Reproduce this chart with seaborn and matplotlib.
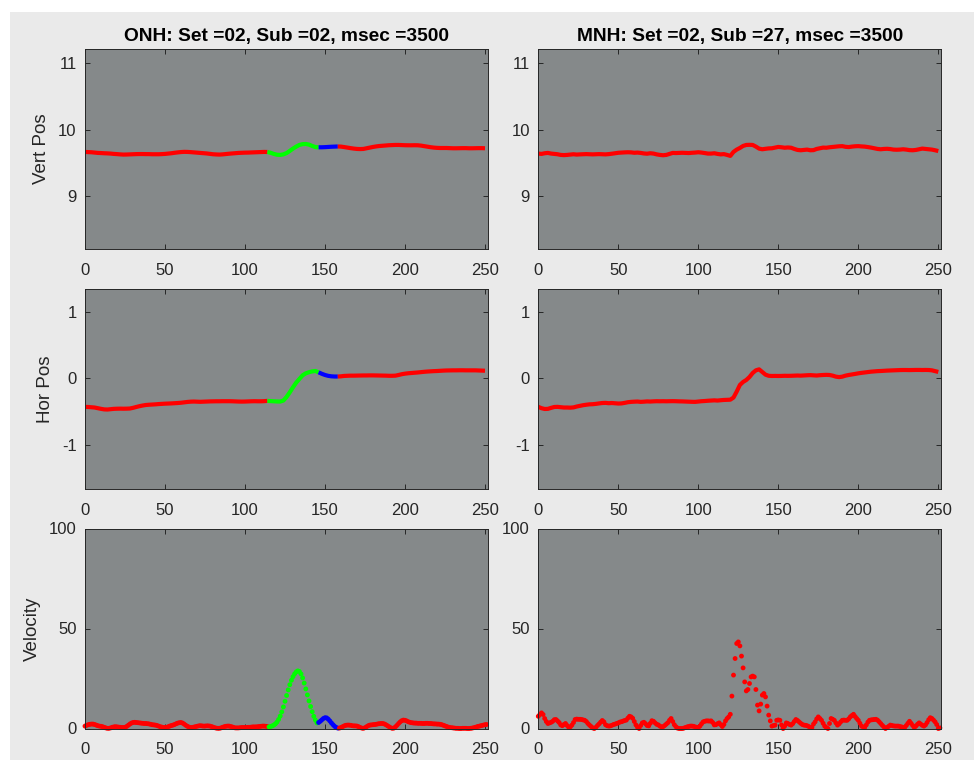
import numpy as np
import pandas as pd
import seaborn as sns
import matplotlib
matplotlib.use("Agg")
import matplotlib.pyplot as plt
from matplotlib.patches import Rectangle

# ---------------------------------------------------------------- data
# Position traces are sampled every 2 samples, velocity every sample.
POS_T = list(range(0, 252, 2))
VEL_T = list(range(0, 252))

ONH_VERT = [
    9.665, 9.662, 9.660, 9.655, 9.650, 9.648, 9.645, 9.643, 9.640, 9.635,
    9.632, 9.628, 9.625, 9.626, 9.628, 9.630, 9.632, 9.633, 9.633, 9.632,
    9.632, 9.630, 9.630, 9.630, 9.632, 9.635, 9.640, 9.645, 9.652, 9.658,
    9.663, 9.666, 9.665, 9.662, 9.658, 9.654, 9.650, 9.646, 9.642, 9.636,
    9.630, 9.627, 9.625, 9.628, 9.633, 9.638, 9.642, 9.646, 9.650, 9.652,
    9.654, 9.655, 9.657, 9.659, 9.661, 9.663, 9.665, 9.664, 9.652, 9.635,
    9.623, 9.620, 9.628, 9.648, 9.680, 9.715, 9.745, 9.770, 9.782, 9.785,
    9.775, 9.755, 9.738, 9.735, 9.735, 9.737, 9.740, 9.743, 9.745, 9.747,
    9.745, 9.738, 9.730, 9.722, 9.715, 9.710, 9.708, 9.710, 9.720, 9.730,
    9.740, 9.748, 9.754, 9.758, 9.762, 9.766, 9.768, 9.770, 9.770, 9.768,
    9.766, 9.765, 9.765, 9.766, 9.765, 9.760, 9.752, 9.744, 9.736, 9.730,
    9.726, 9.724, 9.724, 9.724, 9.722, 9.720, 9.720, 9.721, 9.722, 9.722,
    9.720, 9.720, 9.721, 9.722, 9.722, 9.720,
]
MNH_VERT = [
    9.640, 9.635, 9.645, 9.650, 9.640, 9.635, 9.630, 9.620, 9.617, 9.620,
    9.625, 9.630, 9.625, 9.628, 9.630, 9.632, 9.630, 9.628, 9.630, 9.632,
    9.630, 9.628, 9.632, 9.638, 9.645, 9.652, 9.655, 9.658, 9.660, 9.658,
    9.652, 9.655, 9.650, 9.642, 9.638, 9.645, 9.640, 9.628, 9.620, 9.615,
    9.620, 9.635, 9.650, 9.648, 9.650, 9.652, 9.650, 9.648, 9.652, 9.655,
    9.660, 9.655, 9.648, 9.640, 9.640, 9.645, 9.635, 9.628, 9.632, 9.620,
    9.605, 9.665, 9.700, 9.725, 9.755, 9.770, 9.772, 9.770, 9.745, 9.715,
    9.705, 9.712, 9.718, 9.720, 9.730, 9.740, 9.735, 9.728, 9.732, 9.728,
    9.710, 9.695, 9.690, 9.695, 9.700, 9.690, 9.692, 9.710, 9.720, 9.730,
    9.728, 9.735, 9.740, 9.745, 9.750, 9.752, 9.742, 9.738, 9.745, 9.750,
    9.752, 9.748, 9.745, 9.738, 9.730, 9.720, 9.710, 9.705, 9.710, 9.712,
    9.708, 9.700, 9.698, 9.700, 9.705, 9.700, 9.692, 9.690, 9.695, 9.705,
    9.715, 9.710, 9.705, 9.700, 9.690, 9.678,
]
ONH_HOR = [
    -0.430, -0.432, -0.436, -0.440, -0.450, -0.460, -0.468, -0.470, -0.465, -0.460,
    -0.458, -0.457, -0.458, -0.457, -0.455, -0.445, -0.432, -0.420, -0.410, -0.402,
    -0.398, -0.395, -0.392, -0.388, -0.385, -0.382, -0.380, -0.378, -0.375, -0.372,
    -0.368, -0.362, -0.356, -0.352, -0.350, -0.352, -0.354, -0.352, -0.350, -0.348,
    -0.347, -0.346, -0.346, -0.345, -0.345, -0.345, -0.346, -0.348, -0.350, -0.351,
    -0.350, -0.348, -0.346, -0.345, -0.346, -0.346, -0.344, -0.340, -0.343, -0.346,
    -0.349, -0.350, -0.335, -0.280, -0.210, -0.135, -0.065, -0.010, 0.045, 0.075,
    0.092, 0.104, 0.110, 0.090, 0.068, 0.050, 0.037, 0.030, 0.027, 0.027,
    0.030, 0.036, 0.038, 0.040, 0.040, 0.041, 0.042, 0.043, 0.043, 0.044,
    0.044, 0.043, 0.042, 0.041, 0.040, 0.038, 0.038, 0.040, 0.050, 0.062,
    0.070, 0.076, 0.080, 0.084, 0.088, 0.093, 0.098, 0.102, 0.105, 0.108,
    0.110, 0.113, 0.116, 0.118, 0.119, 0.120, 0.120, 0.121, 0.121, 0.120,
    0.120, 0.120, 0.120, 0.118, 0.116, 0.114,
]
MNH_HOR = [
    -0.430, -0.450, -0.462, -0.460, -0.445, -0.432, -0.430, -0.435, -0.440, -0.440,
    -0.442, -0.438, -0.425, -0.415, -0.405, -0.398, -0.392, -0.390, -0.385, -0.378,
    -0.372, -0.370, -0.375, -0.372, -0.376, -0.380, -0.378, -0.370, -0.360, -0.355,
    -0.352, -0.350, -0.355, -0.352, -0.348, -0.350, -0.347, -0.345, -0.346, -0.345,
    -0.346, -0.345, -0.344, -0.345, -0.347, -0.348, -0.350, -0.352, -0.354, -0.355,
    -0.350, -0.345, -0.342, -0.338, -0.335, -0.332, -0.335, -0.330, -0.326, -0.324,
    -0.322, -0.290, -0.200, -0.100, -0.055, -0.025, 0.020, 0.080, 0.120, 0.135,
    0.095, 0.055, 0.038, 0.035, 0.036, 0.035, 0.036, 0.038, 0.037, 0.038,
    0.040, 0.042, 0.040, 0.043, 0.046, 0.048, 0.045, 0.042, 0.047, 0.050,
    0.052, 0.050, 0.040, 0.025, 0.018, 0.025, 0.040, 0.050, 0.058, 0.066,
    0.075, 0.082, 0.088, 0.094, 0.100, 0.104, 0.108, 0.110, 0.113, 0.116,
    0.118, 0.120, 0.122, 0.124, 0.125, 0.125, 0.124, 0.125, 0.126, 0.126,
    0.125, 0.126, 0.125, 0.120, 0.108, 0.096,
]
ONH_VEL = [
    1.2, 1.6, 1.9, 2.1, 2.2, 2.2, 2.0, 1.7, 1.4, 1.2,
    1.1, 0.9, 0.6, 0.3, 0.1, 0.1, 0.3, 0.6, 0.8, 0.9,
    0.8, 0.7, 0.6, 0.5, 0.5, 0.6, 1.0, 1.6, 2.2, 2.7,
    3.0, 3.1, 3.0, 2.9, 2.8, 2.7, 2.6, 2.5, 2.5, 2.4,
    2.3, 2.1, 1.9, 1.8, 1.7, 1.5, 1.2, 0.9, 0.7, 0.5,
    0.5, 0.6, 0.9, 1.2, 1.5, 1.7, 2.0, 2.4, 2.7, 2.9,
    3.0, 2.7, 2.2, 1.6, 1.1, 0.7, 0.5, 0.5, 0.7, 0.9,
    1.1, 1.3, 1.4, 1.3, 1.2, 1.2, 1.3, 1.3, 1.2, 1.0,
    0.7, 0.4, 0.2, 0.1, 0.1, 0.3, 0.6, 0.9, 1.1, 1.2,
    1.2, 1.0, 0.8, 0.5, 0.3, 0.3, 0.3, 0.4, 0.5, 0.5,
    0.5, 0.5, 0.6, 0.6, 0.7, 0.8, 0.8, 0.8, 0.9, 1.0,
    1.1, 1.2, 1.2, 1.1, 1.0,
    # saccade
    0.8, 1.0, 1.3, 1.7, 2.3, 3.2, 4.5, 6.2, 8.3, 10.8,
    13.6, 16.5, 19.3, 21.9, 24.1, 25.9, 27.3, 28.3, 28.8, 28.5,
    27.3, 25.3, 22.7, 19.8, 16.8, 13.8, 11.0, 8.4, 6.1, 4.2,
    2.8,
    # post-saccadic oscillation
    3.0, 3.6, 4.3, 5.0, 5.4, 5.3, 4.7, 3.8, 2.8, 1.9,
    1.1, 0.5, 0.2,
    # fixation
    0.2, 0.5, 0.9, 1.3, 1.6, 1.7, 1.7, 1.6, 1.4, 1.3,
    1.3, 1.2, 0.9, 0.5, 0.2, 0.1, 0.4, 0.9, 1.4, 1.7,
    1.8, 1.9, 2.0, 2.1, 2.3, 2.4, 2.5, 2.5, 2.3, 1.9,
    1.4, 0.9, 0.4, 0.1, 0.2, 0.8, 1.6, 2.5, 3.3, 3.9,
    4.2, 4.1, 3.8, 3.4, 3.1, 2.9, 2.8, 2.7, 2.7, 2.6,
    2.6, 2.6, 2.5, 2.5, 2.6, 2.6, 2.5, 2.5, 2.4, 2.3,
    2.3, 2.2, 2.2, 2.1, 1.9, 1.6, 1.3, 1.0, 0.7, 0.5,
    0.4, 0.3, 0.2, 0.1, 0.1, 0.0, 0.0, 0.1, 0.1, 0.1,
    0.0, 0.0, 0.1, 0.2, 0.4, 0.6, 0.9, 1.1, 1.3, 1.5,
    1.7, 1.9, 2.0,
]
MNH_VEL = [
    6.1, 7.0, 7.8, 7.0, 5.0, 3.5, 2.5, 2.8, 3.1, 3.6,
    4.4, 4.5, 3.8, 3.0, 1.8, 1.4, 2.0, 2.5, 1.5, 0.6,
    0.8, 1.7, 3.0, 4.5, 4.7, 4.6, 4.6, 4.5, 4.3, 4.1,
    3.5, 2.5, 1.7, 1.0, 0.3, 0.0, 0.6, 1.5, 2.3, 3.2,
    4.0, 3.3, 1.9, 1.4, 1.2, 1.3, 1.6, 2.0, 2.2, 2.5,
    2.8, 3.2, 3.4, 3.7, 4.0, 4.2, 5.2, 6.1, 5.8, 5.1,
    3.5, 1.8, 0.6, 0.0, 1.5, 2.8, 3.1, 2.4, 1.5, 1.3,
    2.6, 3.9, 3.6, 2.8, 2.1, 1.8, 1.2, 0.8, 0.9, 1.5,
    2.2, 2.9, 4.1, 5.0, 3.5, 1.9, 0.9, 0.2, 0.0, 0.0,
    0.0, 0.2, 0.5, 0.8, 1.0, 1.2, 1.2, 1.1, 0.8, 0.6,
    0.5, 1.2, 2.3, 3.3, 3.6, 3.8, 3.8, 3.7, 3.8, 3.0,
    1.8, 1.9, 2.4, 2.8, 1.9, 1.0, 2.0, 3.8, 5.0, 5.8,
    7.1, 16.2, 26.7, 35.0, 42.5, 43.3, 41.3, 36.2, 30.3, 23.3,
    18.8, 19.5, 22.5, 25.8, 26.2, 25.8, 19.5, 11.7, 8.8, 12.2,
    16.7, 17.5, 15.8, 11.2, 6.7, 3.8, 1.2, 1.5, 1.7, 4.1,
    4.3, 4.1, 1.8, 0.0, 1.2, 2.8, 2.5, 2.0, 1.7, 2.4,
    3.5, 4.5, 4.0, 3.3, 2.6, 2.0, 1.7, 1.6, 1.4, 1.0,
    0.6, 0.5, 2.2, 3.3, 4.8, 5.8, 5.0, 4.1, 2.6, 1.2,
    0.5, 0.0, 2.5, 5.0, 4.6, 4.1, 2.8, 1.7, 2.3, 3.3,
    4.1, 4.2, 4.1, 4.1, 4.8, 5.8, 6.5, 7.1, 6.0, 5.0,
    4.1, 2.6, 1.2, 0.8, 0.5, 1.8, 3.2, 4.1, 4.3, 4.4,
    4.5, 4.6, 4.2, 3.4, 2.5, 1.6, 0.8, 0.0, 0.5, 1.1,
    1.7, 1.5, 1.3, 1.2, 1.2, 1.2, 1.0, 0.8, 0.6, 0.5,
    1.5, 2.6, 3.6, 2.6, 1.5, 0.5, 1.2, 2.1, 2.8, 2.2,
    1.6, 1.2, 1.8, 3.0, 4.4, 5.4, 5.0, 4.2, 3.3, 2.0,
    0.0, 0.3,
]

# ONH event classification: fixation / saccade / PSO / fixation
ONH_EDGES = [0, 115, 146, 159, 252]
ONH_COLORS = ["#ff0000", "#00ff00", "#0000ff", "#ff0000"]

TITLES = ["ONH: Set =02, Sub =02, msec =3500",
          "MNH: Set =02, Sub =27, msec =3500"]
YLABELS = ["Vert Pos", "Hor Pos", "Velocity"]
YLIMS = [(8.203, 11.215), (-1.667, 1.345), (0, 100)]
YTICKS = [[9, 10, 11], [-1, 0, 1], [0, 50, 100]]
XTICKS = [0, 50, 100, 150, 200, 250]

# ---------------------------------------------------------------- style
sns.set_style("ticks")
plt.rcParams["font.family"] = ["Liberation Sans", "DejaVu Sans"]
plt.rcParams["axes.unicode_minus"] = False

W, H = 974, 760
fig = plt.figure(figsize=(W / 100, H / 100), dpi=100, facecolor="white")
fig.patches.append(Rectangle((10 / W, 0), 1, 1 - 12 / H, transform=fig.transFigure,
                             facecolor="#eaeaea", edgecolor="none", zorder=-10))

AX_FACE = "#85898a"
DARK = "#262626"
col_left = [85, 538.3]
col_width = 403.2
row_top = [49, 289, 528.5]
row_h = 200


def make_axes(r, c):
    left = col_left[c] / W
    bottom = 1 - (row_top[r] + row_h) / H
    ax = fig.add_axes([left, bottom, col_width / W, row_h / H])
    ax.set_facecolor(AX_FACE)
    for s in ax.spines.values():
        s.set_color(DARK)
        s.set_linewidth(0.7)
    ax.tick_params(direction="in", length=3.5, width=0.7, color=DARK,
                   labelcolor=DARK, labelsize=12, top=True, right=True)
    ax.tick_params(axis="x", pad=10)
    ax.tick_params(axis="y", pad=6)
    ax.set_xlim(0, 252)
    ax.set_ylim(*YLIMS[r])
    ax.set_xticks(XTICKS)
    ax.set_yticks(YTICKS[r])
    ax.set_xlabel("")
    ax.set_ylabel("")
    return ax


def line_pieces(t, y, edges, colors):
    t = np.asarray(t)
    y = np.asarray(y)
    out = []
    for lo, hi, col in zip(edges[:-1], edges[1:], colors):
        m = (t >= lo - 1) & (t < hi + 1)
        out.append((t[m], y[m], col))
    return out


def dot_pieces(t, y, edges, colors):
    t = np.asarray(t)
    y = np.asarray(y)
    out = []
    for lo, hi, col in zip(edges[:-1], edges[1:], colors):
        m = (t >= lo) & (t < hi)
        out.append((t[m], y[m], col))
    return out


LW = 3.0
DOT = 12
LABEL_SIZE = 13.5

pos_series = [[ONH_VERT, MNH_VERT], [ONH_HOR, MNH_HOR]]
for r in range(2):
    for c in range(2):
        ax = make_axes(r, c)
        y = pos_series[r][c]
        if c == 0:
            pieces = line_pieces(POS_T, y, ONH_EDGES, ONH_COLORS)
        else:
            pieces = [(np.asarray(POS_T), np.asarray(y), "#ff0000")]
        for tt, yy, col in pieces:
            df = pd.DataFrame({"t": tt, "v": yy})
            sns.lineplot(data=df, x="t", y="v", ax=ax, color=col, linewidth=LW,
                         estimator=None, sort=False, solid_capstyle="butt")
        ax.set_xlabel("")
        ax.set_ylabel("")
        if r == 0:
            ax.set_title(TITLES[c], fontsize=13.8, fontweight="bold",
                         color="black", pad=5.5)
        if c == 0:
            ax.set_ylabel(YLABELS[r], fontsize=LABEL_SIZE, color=DARK,
                          labelpad=6)

vel_series = [ONH_VEL, MNH_VEL]
for c in range(2):
    ax = make_axes(2, c)
    if c == 0:
        pieces = dot_pieces(VEL_T, vel_series[c], ONH_EDGES, ONH_COLORS)
    else:
        pieces = [(np.asarray(VEL_T), np.asarray(vel_series[c]), "#ff0000")]
    for tt, yy, col in pieces:
        df = pd.DataFrame({"t": tt, "v": yy})
        sns.scatterplot(data=df, x="t", y="v", ax=ax, color=col, s=DOT,
                        linewidth=0, edgecolor="none", clip_on=False)
    ax.set_xlabel("")
    ax.set_ylabel("")
    if c == 0:
        ax.set_ylabel(YLABELS[2], fontsize=LABEL_SIZE, color=DARK, labelpad=6)

fig.savefig("out.png", dpi=100, facecolor=fig.get_facecolor())
